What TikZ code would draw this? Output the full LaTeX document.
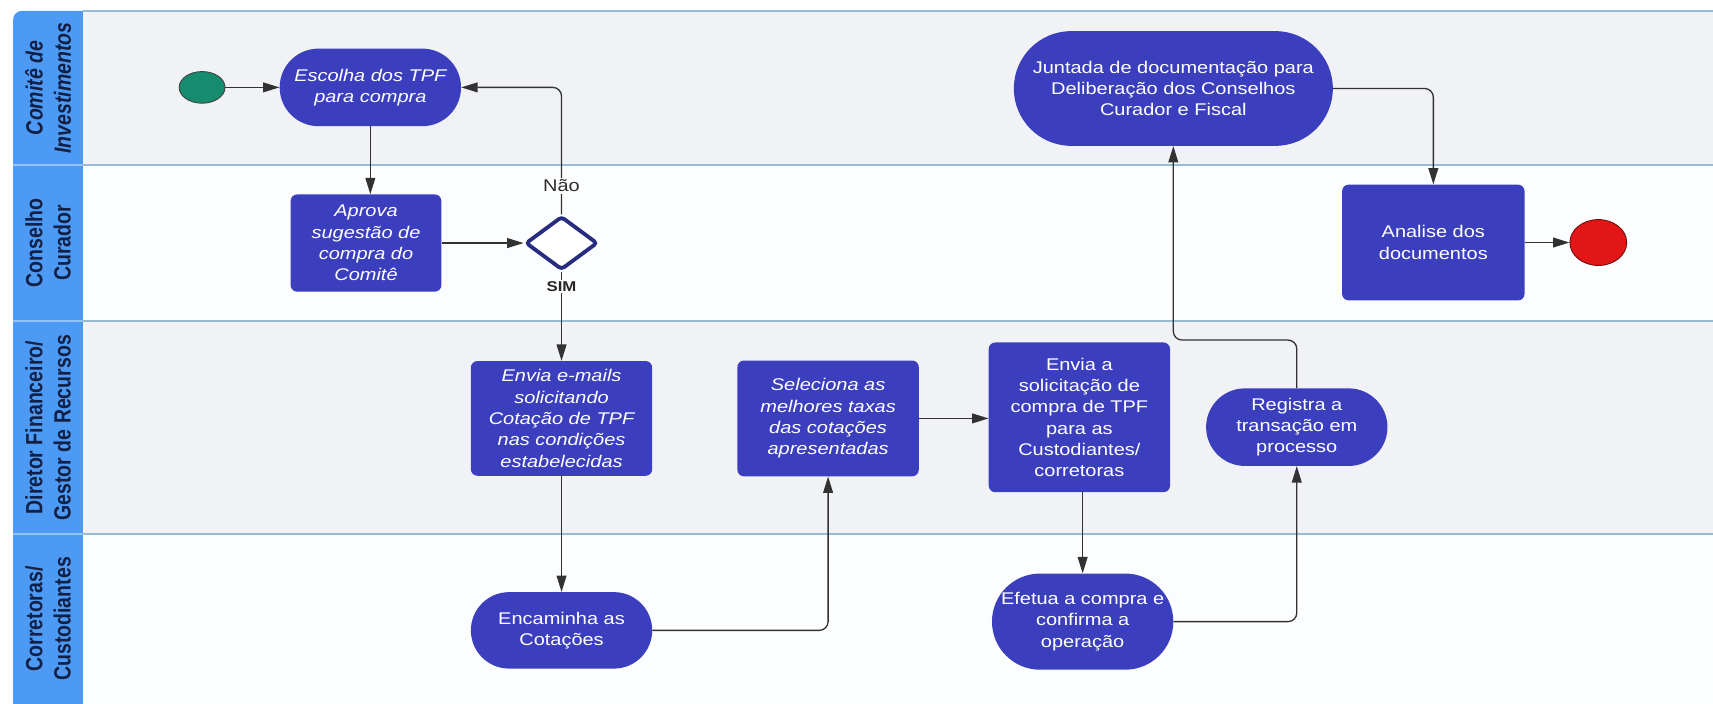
\documentclass[tikz,border=0pt]{standalone}
\usepackage{fontspec}
\setmainfont[FakeStretch=1.18]{Liberation Sans}
\newfontfamily\lanefont[FakeStretch=0.83]{Liberation Sans}
\usetikzlibrary{arrows.meta,shapes.geometric}
\definecolor{laneblue}{RGB}{77,154,245}
\definecolor{lanesep}{RGB}{150,195,245}
\definecolor{lanetext}{RGB}{18,32,70}
\definecolor{lanegray}{RGB}{240,242,245}
\definecolor{lanewhite}{RGB}{252,253,254}
\definecolor{boundc}{RGB}{150,188,214}
\definecolor{nodeblue}{RGB}{59,63,190}
\definecolor{diaborder}{RGB}{40,44,128}
\definecolor{startgreen}{RGB}{22,140,110}
\definecolor{endred}{RGB}{226,22,22}
\definecolor{endborder}{RGB}{110,10,10}
\definecolor{arrowc}{RGB}{50,50,50}
\definecolor{lbltext}{RGB}{45,45,45}
\begin{document}
\begin{tikzpicture}[x=1pt,y=-1pt,
  arr/.style={draw=arrowc, line width=1.2pt, -{Triangle[length=15pt,width=9pt]}, rounded corners=8pt},
  box/.style={fill=nodeblue, text=white, align=center, inner sep=0pt, rounded corners=6pt, minimum width=166pt, font=\fontsize{15.5}{19.5}\selectfont},
  ibox/.style={box, font=\fontsize{15.5}{19.5}\selectfont\itshape},
  lanelbl/.style={rotate=90, align=center, text=lanetext, font=\lanefont\fontsize{21.5}{26}\selectfont\bfseries},
  edgelbl/.style={fill=lanewhite, inner sep=1.5pt}
]
\useasboundingbox (0,0) rectangle (1568,644.4);
\fill[white] (0,0) rectangle (1568,644.4);
% label column
\fill[laneblue, rounded corners=8pt] (12,10) rectangle (100,670);
% lanes
\fill[lanegray] (76,10) rectangle (1580,151);
\fill[lanewhite] (76,151) rectangle (1580,294);
\fill[lanegray] (76,294) rectangle (1580,489);
\fill[lanewhite] (76,489) rectangle (1580,670);
\draw[boundc, line width=1.5pt] (76,10) -- (1580,10);
\foreach \yy in {151,294,489} {
  \draw[boundc, line width=1.8pt] (76,\yy) -- (1580,\yy);
  \draw[lanesep, line width=1.5pt] (12,\yy) -- (76,\yy);
}
% lane labels
\node[lanelbl, font=\lanefont\fontsize{21.5}{26}\selectfont\bfseries\itshape] (lab1) at (44,80.5) {Comitê de\\Investimentos};
\node[lanelbl] (lab2) at (44,222.5) {Conselho\\Curador};
\node[lanelbl] (lab3) at (44,391.5) {Diretor Financeiro/\\Gestor de Recursos};
\node[lanelbl] (lab4) at (44,566.5) {Corretoras/\\Custodiantes};
% nodes
\node[ellipse, minimum width=42pt, minimum height=29pt, inner sep=0pt, fill=startgreen, draw=black!75, line width=0.8pt] (start) at (185,80) {};
\node[ibox, minimum height=71pt, rounded corners=35.5pt] (escolha) at (339,80) {Escolha dos TPF\\para compra};
\node[ibox, minimum width=138pt, minimum height=89pt] (aprova) at (335,222.5) {Aprova\\sugestão de\\compra do\\Comitê};
\node[diamond, minimum width=66pt, minimum height=49pt, inner sep=0pt, fill=white, draw=diaborder, line width=3.5pt, rounded corners=3pt] (dia) at (514,222.5) {};
\node[ibox, minimum height=105pt] (envia1) at (514,383) {Envia e-mails\\solicitando\\Cotação de TPF\\nas condições\\estabelecidas};
\node[box, minimum height=70pt, rounded corners=35pt] (encam) at (514,577) {Encaminha as\\Cotações};
\node[ibox, minimum height=106pt] (selec) at (758,383) {Seleciona as\\melhores taxas\\das cotações\\apresentadas};
\node[box, minimum height=137pt] (envia2) at (988,382) {Envia a\\solicitação de\\compra de TPF\\para as\\Custodiantes/\\corretoras};
\node[box, minimum height=88pt, rounded corners=44pt] (efetua) at (991,569) {Efetua a compra e\\confirma a\\operação};
\node[box, minimum height=71pt, rounded corners=35.5pt] (regist) at (1187,391) {Registra a\\transação em\\processo};
\node[box, minimum width=292pt, minimum height=105pt, rounded corners=52.5pt] (juntada) at (1074,81) {Juntada de documentação para\\Deliberação dos Conselhos\\Curador e Fiscal};
\node[box, minimum width=167pt, minimum height=106pt] (analise) at (1312,222) {Analise dos\\documentos};
\node[ellipse, minimum width=52pt, minimum height=42pt, inner sep=0pt, fill=endred, draw=endborder, line width=0.8pt] (fim) at (1463,222) {};
% connectors
\draw[arr] (start.east) -- (escolha.west);
\draw[arr] (escolha.south) -- (escolha.south |- aprova.north);
\draw[arr] (aprova.east) -- (dia.west);
\draw[arr] (dia.north) |- (escolha.east);
\draw[arr] (dia.south) -- (envia1.north);
\draw[arr] (envia1.south) -- (encam.north);
\draw[arr] (encam.east) -| (selec.south);
\draw[arr] (selec.east) -- (selec.east -| envia2.west);
\draw[arr] (envia2.south -| efetua.north) -- (efetua.north);
\draw[arr] (efetua.east) -| (regist.south);
\draw[arr] (regist.north) -- ++(0,-44) -| (juntada.south);
\draw[arr] (juntada.east) -| (analise.north);
\draw[arr] (analise.east) -- (analise.east -| fim.west);
% edge labels
\node[edgelbl, text=lbltext, font=\fontsize{15.5}{18}\selectfont] (nao) at (514,170) {Não};
\node[edgelbl, text=black!85, font=\fontsize{13}{15}\selectfont\bfseries] (sim) at (514,262) {SIM};
\end{tikzpicture}
\end{document}
